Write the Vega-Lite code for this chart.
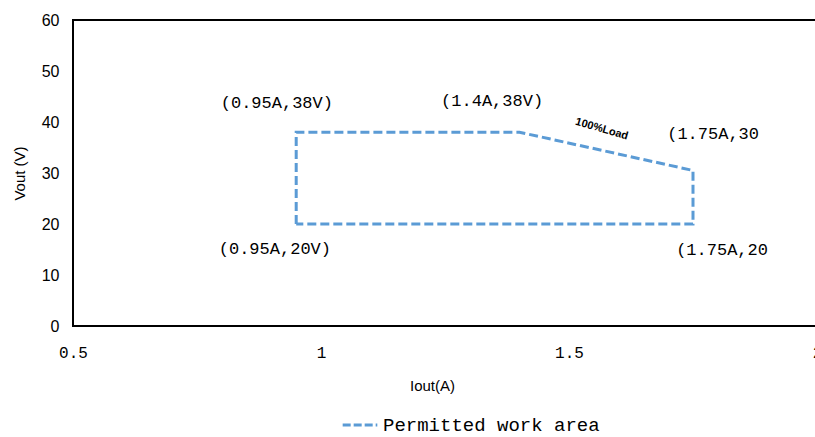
{
  "$schema": "https://vega.github.io/schema/vega-lite/v6.json",
  "width": 744,
  "height": 306,
  "autosize": {"type": "none"},
  "padding": {"left": 73, "top": 20, "right": 0, "bottom": 111},
  "background": "white",
  "config": {
    "view": {"stroke": "black", "strokeWidth": 2},
    "axis": {"grid": false, "domain": false, "ticks": false}
  },
  "datasets": {
    "area": [
      {"order": 1, "iout": 0.95, "vout": 20, "series": "Permitted work area"},
      {"order": 2, "iout": 0.95, "vout": 38, "series": "Permitted work area"},
      {"order": 3, "iout": 1.4, "vout": 38, "series": "Permitted work area"},
      {"order": 4, "iout": 1.75, "vout": 30.5, "series": "Permitted work area"},
      {"order": 5, "iout": 1.75, "vout": 20, "series": "Permitted work area"},
      {"order": 6, "iout": 0.95, "vout": 20, "series": "Permitted work area"}
    ],
    "labels": [
      {"iout": 0.911, "vout": 43.7, "label": "(0.95A,38V)"},
      {"iout": 1.345, "vout": 44.1, "label": "(1.4A,38V)"},
      {"iout": 0.907, "vout": 15.1, "label": "(0.95A,20V)"}
    ],
    "labelsLeft": [
      {"iout": 1.698, "vout": 37.6, "label": "(1.75A,30"},
      {"iout": 1.716, "vout": 14.9, "label": "(1.75A,20"}
    ],
    "load": [
      {"iout": 1.566, "vout": 38.6, "label": "100%Load"}
    ]
  },
  "layer": [
    {
      "data": {"name": "area"},
      "mark": {"type": "line", "strokeWidth": 3, "strokeDash": [9, 4]},
      "encoding": {
        "x": {
          "field": "iout", "type": "quantitative",
          "scale": {"domain": [0.5, 2], "nice": false, "zero": false},
          "axis": {
            "values": [0.5, 1, 1.5, 2],
            "format": ".1~f",
            "title": "Iout(A)",
            "labelFont": "Liberation Mono", "labelFontSize": 16, "labelColor": "#000",
            "labelPadding": 18,
            "labelFlush": false,
            "titleFont": "Liberation Sans", "titleFontSize": 15, "titleFontWeight": "normal", "titleColor": "#000",
            "titlePadding": 18,
            "titleX": 359
          }
        },
        "y": {
          "field": "vout", "type": "quantitative",
          "scale": {"domain": [0, 60], "nice": false},
          "axis": {
            "values": [0, 10, 20, 30, 40, 50, 60],
            "title": "Vout (V)",
            "labelFont": "Liberation Sans", "labelFontSize": 16, "labelColor": "#000",
            "labelPadding": 14,
            "titleFont": "Liberation Sans", "titleFontSize": 15, "titleFontWeight": "normal", "titleColor": "#000",
            "titlePadding": 14
          }
        },
        "order": {"field": "order", "type": "quantitative"},
        "color": {
          "field": "series", "type": "nominal",
          "scale": {"range": ["#5B9BD5"]},
          "legend": {
            "title": null,
            "orient": "none",
            "legendX": 268,
            "legendY": 386,
            "symbolType": "stroke",
            "symbolDash": [8, 3],
            "symbolStrokeWidth": 3,
            "symbolSize": 1200,
            "labelFont": "Liberation Mono",
            "labelFontSize": 19,
            "labelColor": "#000",
            "labelLimit": 400
          }
        }
      }
    },
    {
      "data": {"name": "labels"},
      "mark": {"type": "text", "font": "Liberation Mono", "fontSize": 17, "color": "#000", "align": "center", "baseline": "middle"},
      "encoding": {
        "x": {"field": "iout", "type": "quantitative"},
        "y": {"field": "vout", "type": "quantitative"},
        "text": {"field": "label"}
      }
    },
    {
      "data": {"name": "labelsLeft"},
      "mark": {"type": "text", "font": "Liberation Mono", "fontSize": 17, "color": "#000", "align": "left", "baseline": "middle"},
      "encoding": {
        "x": {"field": "iout", "type": "quantitative"},
        "y": {"field": "vout", "type": "quantitative"},
        "text": {"field": "label"}
      }
    },
    {
      "data": {"name": "load"},
      "mark": {"type": "text", "font": "Liberation Sans", "fontSize": 11, "fontWeight": "bold", "color": "#000", "align": "center", "baseline": "middle", "angle": 16},
      "encoding": {
        "x": {"field": "iout", "type": "quantitative"},
        "y": {"field": "vout", "type": "quantitative"},
        "text": {"field": "label"}
      }
    }
  ]
}
